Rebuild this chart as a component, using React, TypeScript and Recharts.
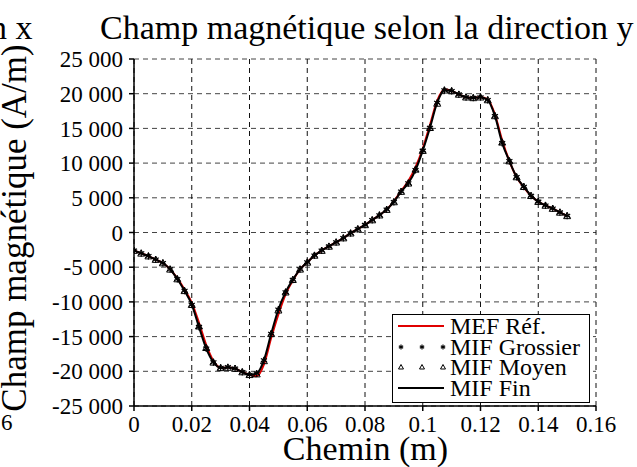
import React from 'react';
import {
  LineChart,
  Line,
  XAxis,
  YAxis,
  CartesianGrid
} from 'recharts';

// Chemin (m)
const chemin = [
  0, 0.0025, 0.005, 0.0075, 0.01, 0.0125, 0.015, 0.0175, 0.02, 0.0225,
  0.025, 0.0275, 0.03, 0.0325, 0.035, 0.0375, 0.04, 0.0425, 0.045, 0.0475,
  0.05, 0.0525, 0.055, 0.0575, 0.06, 0.0625, 0.065, 0.0675, 0.07, 0.0725,
  0.075, 0.0775, 0.08, 0.0825, 0.085, 0.0875, 0.09, 0.0925, 0.095, 0.0975,
  0.1, 0.1025, 0.105, 0.1075, 0.11, 0.1125, 0.115, 0.1175, 0.12, 0.1225,
  0.125, 0.1275, 0.13, 0.1325, 0.135, 0.1375, 0.14, 0.1425, 0.145, 0.1475,
  0.15
];

// Champ magnétique (A/m) for each model
const mefRef = [
  -2600, -3000, -3400, -3900, -4400, -5300, -6600, -8200, -10100, -13000,
  -16200, -18500, -19500, -19450, -19600, -20100, -20500, -20700, -19000, -15200,
  -11800, -8900, -6900, -5300, -4300, -3300, -2600, -2000, -1400, -800,
  -100, 500, 1100, 1800, 2500, 3300, 4500, 6000, 7400, 9400,
  12100, 15500, 19000, 20600, 20400, 19900, 19500, 19400, 19500, 19200,
  17000, 13300, 10300, 8000, 6500, 5300, 4450, 3900, 3450, 2900,
  2400
];

const mifGrossier = [
  -2600, -3000, -3400, -3900, -4400, -5300, -6700, -8400, -10400, -13600,
  -16700, -18700, -19500, -19400, -19600, -20100, -20500, -20300, -18400, -14600,
  -11100, -8600, -6800, -5300, -4300, -3300, -2600, -2000, -1400, -800,
  -100, 500, 1100, 1800, 2500, 3300, 4400, 5900, 7100, 9000,
  11800, 15100, 18700, 20500, 20400, 19900, 19500, 19400, 19500, 19100,
  16800, 12900, 10300, 8000, 6600, 5300, 4450, 3900, 3450, 2900,
  2400
];

const mifMoyen = [
  -2600, -3000, -3400, -3900, -4400, -5300, -6700, -8400, -10400, -13500,
  -16600, -18700, -19500, -19450, -19600, -20100, -20500, -20400, -18500, -14600,
  -11200, -8600, -6800, -5300, -4300, -3300, -2600, -2000, -1400, -800,
  -100, 500, 1100, 1800, 2500, 3300, 4400, 5900, 7100, 9100,
  11800, 15100, 18600, 20500, 20400, 19900, 19500, 19400, 19500, 19100,
  16800, 13000, 10300, 8000, 6600, 5300, 4450, 3900, 3450, 2900,
  2400
];

const mifFin = [
  -2600, -3000, -3400, -3900, -4400, -5300, -6700, -8400, -10400, -13600,
  -16700, -18700, -19500, -19450, -19600, -20100, -20500, -20300, -18400, -14600,
  -11100, -8600, -6800, -5300, -4300, -3300, -2600, -2000, -1400, -800,
  -100, 500, 1100, 1800, 2500, 3300, 4400, 5900, 7100, 9000,
  11800, 15100, 18700, 20500, 20400, 19900, 19500, 19400, 19500, 19100,
  16800, 12900, 10300, 8000, 6600, 5300, 4450, 3900, 3450, 2900,
  2400
];

const xTicks = [0, 0.02, 0.04, 0.06, 0.08, 0.1, 0.12, 0.14, 0.16];
const yTicks = [-25000, -20000, -15000, -10000, -5000, 0, 5000, 10000, 15000, 20000, 25000];

const legendItems = ['MEF Réf.', 'MIF Grossier', 'MIF Moyen', 'MIF Fin'];

const data = chemin.map((x, i) => ({
  x,
  ref: mefRef[i],
  grossier: mifGrossier[i],
  moyen: mifMoyen[i],
  fin: mifFin[i]
}));

const FONT = '"Liberation Serif", "Times New Roman", serif';

const formatThousands = (v: number) => {
  const s = String(Math.abs(v)).replace(/\B(?=(\d{3})+(?!\d))/g, ' ');
  return v < 0 ? `-${s}` : s;
};

// asterisk marker
const Star = ({ cx, cy, size = 3.5 }: any) => {
  if (cx == null || cy == null) return null;
  const d = size * 0.87;
  const h = size * 0.5;
  return (
    <g stroke="#000" strokeWidth={1.2}>
      <line x1={cx} y1={cy - size} x2={cx} y2={cy + size} />
      <line x1={cx - d} y1={cy - h} x2={cx + d} y2={cy + h} />
      <line x1={cx - d} y1={cy + h} x2={cx + d} y2={cy - h} />
    </g>
  );
};

// open triangle marker
const Tri = ({ cx, cy, size = 3.5 }: any) => {
  if (cx == null || cy == null) return null;
  return (
    <polygon
      points={`${cx},${cy - size} ${cx - size},${cy + size * 0.8} ${cx + size},${cy + size * 0.8}`}
      fill="none"
      stroke="#000"
      strokeWidth={1}
    />
  );
};

const ChartLegend = () => (
  <div
    style={{
      position: 'absolute',
      left: 392,
      top: 314,
      width: 198,
      height: 89,
      boxSizing: 'border-box',
      border: '1.5px solid #000',
      background: '#fff',
      fontFamily: FONT,
      fontSize: 24,
      lineHeight: '20.5px',
      paddingTop: 1
    }}
  >
    {legendItems.map((name, i) => (
      <div key={name} style={{ display: 'flex', alignItems: 'center', height: 20.5 }}>
        <svg width={57} height={20} style={{ flex: 'none' }}>
          {i === 0 && <line x1={5} y1={10} x2={51} y2={10} stroke="#e00000" strokeWidth={2} />}
          {i === 1 && [8, 29, 50].map((cx) => <Star key={cx} cx={cx} cy={10} size={2.5} />)}
          {i === 2 && [8, 29, 50].map((cx) => <Tri key={cx} cx={cx} cy={10} size={2.5} />)}
          {i === 3 && <line x1={5} y1={10} x2={51} y2={10} stroke="#000" strokeWidth={2} />}
        </svg>
        <span style={{ whiteSpace: 'nowrap' }}>{name}</span>
      </div>
    ))}
  </div>
);

export default function App() {
  return (
    <div style={{ position: 'absolute', left: 0, top: 0, width: 637, height: 467, overflow: 'hidden', background: '#fff', fontFamily: FONT }}>
      <style>{`.recharts-text, .recharts-cartesian-axis-tick-value { font-family: ${FONT}; }`}</style>
      <div style={{ position: 'absolute', left: -10, top: 11, fontSize: 34, lineHeight: '34px', whiteSpace: 'nowrap' }}>n x</div>
      <div style={{ position: 'absolute', left: 100, top: 11, fontSize: 34, lineHeight: '34px', whiteSpace: 'nowrap' }}>
        Champ magnétique selon la direction y
      </div>
      <div style={{ position: 'absolute', left: 1, top: 412, fontSize: 23, lineHeight: '22px' }}>6</div>

      <LineChart width={637} height={467} data={data} margin={{ top: 59, right: 41, bottom: 0, left: 0 }} style={{ fontFamily: FONT }}>
        {/* horizontal grid a bit lighter than the vertical one, as in the source */}
        <CartesianGrid vertical={false} stroke="#444" strokeDasharray="5 4" strokeWidth={1} />
        <CartesianGrid horizontal={false} stroke="#111" strokeDasharray="5 4" strokeWidth={1} />
        <XAxis
          dataKey="x"
          type="number"
          domain={[0, 0.16]}
          ticks={xTicks}
          tickFormatter={(v) => String(v)}
          height={61}
          stroke="#000"
          strokeWidth={1.5}
          tickSize={5}
          tickMargin={5}
          tick={{ fill: '#000', fontSize: 23, fontFamily: FONT }}
          allowDataOverflow
        />
        <XAxis xAxisId="top" orientation="top" type="number" domain={[0, 0.16]} height={0} tick={false} tickLine={false} stroke="#000" strokeWidth={1.5} />
        <YAxis
          type="number"
          domain={[-25000, 25000]}
          ticks={yTicks}
          tickFormatter={formatThousands}
          width={134}
          stroke="#000"
          strokeWidth={1.5}
          tickSize={5}
          tickMargin={6}
          tick={{ fill: '#000', fontSize: 23, fontFamily: FONT }}
          interval={0}
        />
        <YAxis yAxisId="right" orientation="right" domain={[-25000, 25000]} width={0} tick={false} tickLine={false} stroke="#000" strokeWidth={2} />
        <Line type="monotone" dataKey="ref" name="MEF Réf." stroke="#e00000" strokeWidth={2} dot={false} isAnimationActive={false} />
        <Line type="monotone" dataKey="grossier" name="MIF Grossier" stroke="none" dot={(p: any) => <Star key={`s${p.index}`} cx={p.cx} cy={p.cy} />} activeDot={false} isAnimationActive={false} />
        <Line type="monotone" dataKey="moyen" name="MIF Moyen" stroke="none" dot={(p: any) => <Tri key={`t${p.index}`} cx={p.cx} cy={p.cy} />} activeDot={false} isAnimationActive={false} />
        <Line type="monotone" dataKey="fin" name="MIF Fin" stroke="#000" strokeWidth={2} dot={false} isAnimationActive={false} />
      </LineChart>

      <ChartLegend />

      <div style={{ position: 'absolute', left: 0, width: 731, top: 439, textAlign: 'center', fontSize: 34, lineHeight: '20px', whiteSpace: 'nowrap' }}>
        Chemin (m)
      </div>
      <div
        style={{
          position: 'absolute',
          left: 15 - 200,
          top: 228 - 17,
          width: 400,
          textAlign: 'center',
          fontSize: 35,
          lineHeight: '34px',
          whiteSpace: 'nowrap',
          transform: 'rotate(-90deg)'
        }}
      >
        Champ magnétique (A/m)
      </div>
    </div>
  );
}
